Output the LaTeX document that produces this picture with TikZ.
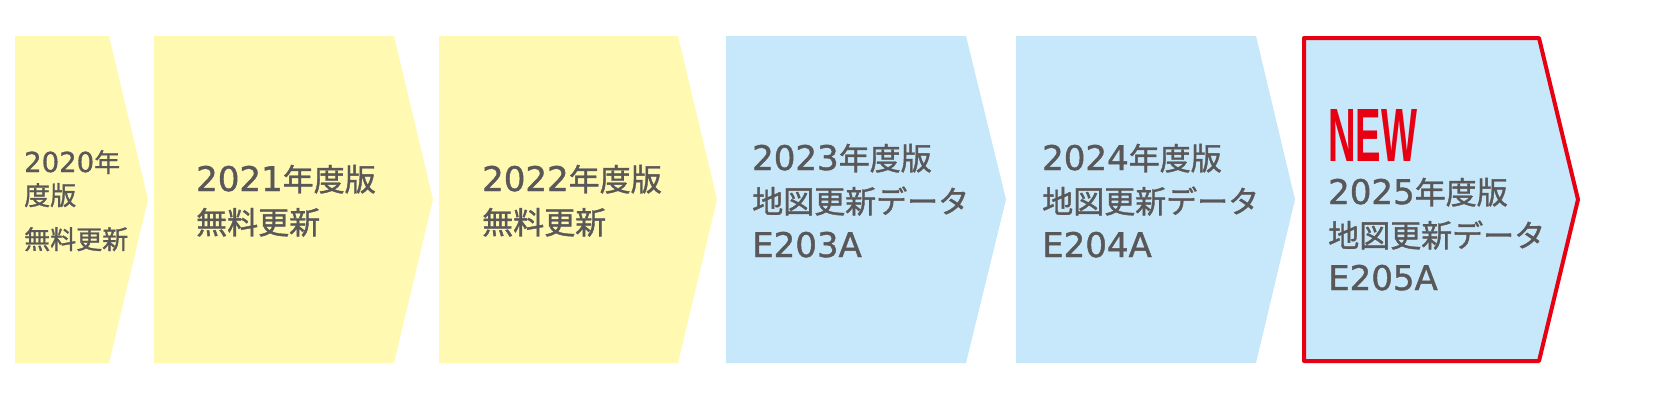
\documentclass[tikz,border=0pt]{standalone}
\usepackage{fontspec}
\usepackage{graphicx}
\newfontfamily\cjkfont[RawFeature={embolden=1.2}]{Noto Sans CJK JP}
\newfontfamily\latfont[RawFeature={embolden=1.2}]{DejaVu Sans}
\newfontfamily\badgefont{Liberation Sans}
\definecolor{pyellow}{RGB}{255,249,177}
\definecolor{pblue}{RGB}{199,232,250}
\definecolor{newred}{RGB}{230,0,18}
\definecolor{tgray}{RGB}{89,87,87}
\newcommand\dig[1]{{\latfont\fontsize{34}{34}\selectfont #1}}
\newcommand\jp[1]{{\cjkfont\fontsize{31}{31}\selectfont #1}}
\newcommand\sdig[1]{{\latfont\fontsize{27.5}{27.5}\selectfont #1}}
\newcommand\sjp[1]{{\cjkfont\fontsize{26}{26}\selectfont #1}}
\tikzset{
  txt/.style={anchor=base west, inner sep=0pt, text=tgray},
  yshape/.style={fill=pyellow},
  bshape/.style={fill=pblue},
}
\begin{document}
\begin{tikzpicture}[x=1pt,y=-1pt]
\useasboundingbox (0,0) rectangle (1668,400);
% arrow shapes
\path[yshape] (15,36) -- (109,36) -- (148,199.5) -- (109,363) -- (15,363) -- cycle;
\path[yshape] (154,36) -- (394,36) -- (433,199.5) -- (394,363) -- (154,363) -- cycle;
\path[yshape] (439,36) -- (678,36) -- (717,199.5) -- (678,363) -- (439,363) -- cycle;
\path[bshape] (726,36) -- (966,36) -- (1006,199.5) -- (966,363) -- (726,363) -- cycle;
\path[bshape] (1016,36) -- (1256,36) -- (1295,199.5) -- (1256,363) -- (1016,363) -- cycle;
\path[bshape, draw=newred, line width=4pt, line join=round]
  (1304,38) -- (1539,38) -- (1578,199.5) -- (1539,361) -- (1304,361) -- cycle;
% texts
\node[txt] (a1) at (24,172) {\sdig{2020}\sjp{年}};
\node[txt] (a2) at (24,205) {\sjp{度版}};
\node[txt] (a3) at (24,249) {\sjp{無料更新}};
\node[txt] (b1) at (196,191) {\dig{2021}\jp{年度版}};
\node[txt] (b2) at (196,234) {\jp{無料更新}};
\node[txt] (c1) at (482,191) {\dig{2022}\jp{年度版}};
\node[txt] (c2) at (482,234) {\jp{無料更新}};
\node[txt] (d1) at (752,170) {\dig{2023}\jp{年度版}};
\node[txt] (d2) at (752,213) {\jp{地図更新データ}};
\node[txt] (d3) at (752,257) {\dig{E203A}};
\node[txt] (e1) at (1042,170) {\dig{2024}\jp{年度版}};
\node[txt] (e2) at (1042,213) {\jp{地図更新データ}};
\node[txt] (e3) at (1042,257) {\dig{E204A}};
\node[txt, text=newred] (new) at (1328,161) {\resizebox{89pt}{52pt}{\badgefont\bfseries NEW}};
\node[txt] (f1) at (1328,204) {\dig{2025}\jp{年度版}};
\node[txt] (f2) at (1328,247) {\jp{地図更新データ}};
\node[txt] (f3) at (1328,290) {\dig{E205A}};
\end{tikzpicture}
\end{document}
